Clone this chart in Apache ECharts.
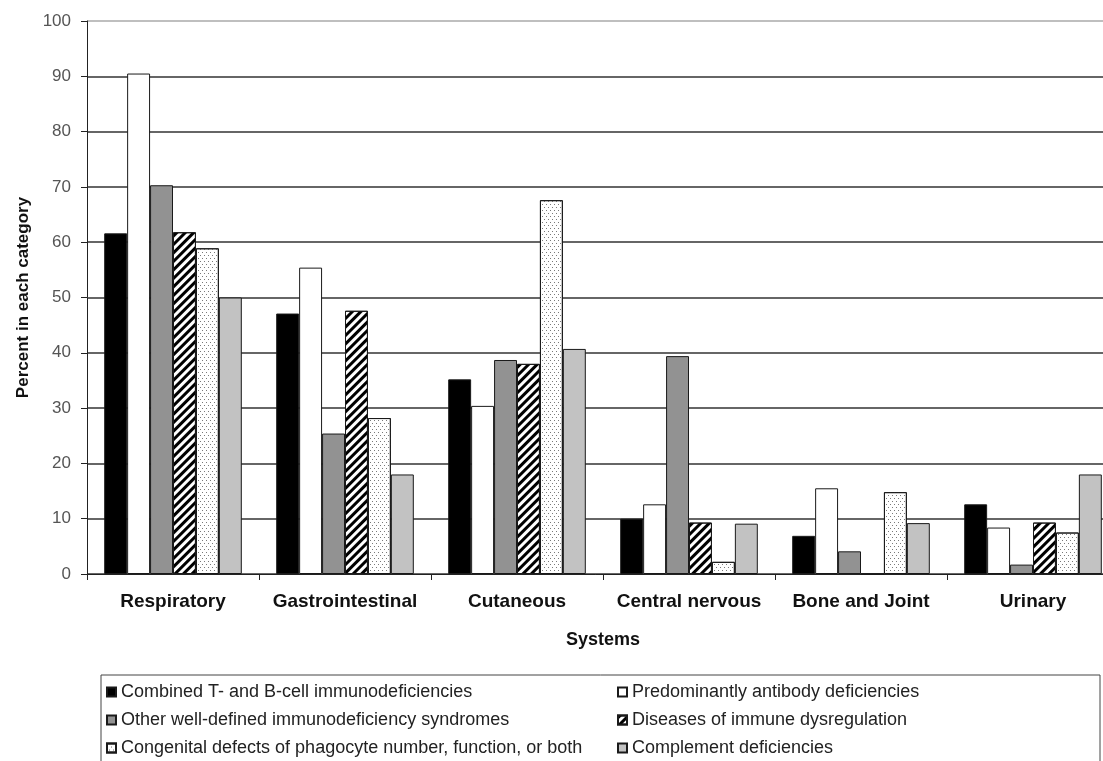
<!DOCTYPE html>
<html lang="en">
<head>
    <meta charset="UTF-8">
    <title>Systems</title>
    <script type="text/javascript" src="https://cdn.jsdelivr.net/npm/echarts@6/dist/echarts.min.js"></script>
    <style>
        html, body {
            margin: 0;
            padding: 0;
            background: #fff;
        }

        #main {
            width: 1103px;
            height: 761px;
        }
    </style>
</head>
<body>
<div id="main"></div>
<script>
    // categories and values (percent in each category)
    var systems = ['Respiratory', 'Gastrointestinal', 'Cutaneous', 'Central nervous', 'Bone and Joint', 'Urinary']
    var yTicks = [0, 10, 20, 30, 40, 50, 60, 70, 80, 90, 100]

    var combinedTB = [61.6, 47.1, 35.2, 10.0, 6.9, 12.6]
    var antibody = [90.5, 55.4, 30.4, 12.6, 15.5, 8.4]
    var otherDefined = [70.3, 25.4, 38.7, 39.4, 4.1, 1.7]
    var dysregulation = [61.8, 47.6, 38.0, 9.3, 0, 9.3]
    var phagocyte = [58.9, 28.2, 67.6, 2.2, 14.8, 7.5]
    var complement = [50.0, 18.0, 40.7, 9.1, 9.2, 18.0]

    var names = [
        'Combined T- and B-cell immunodeficiencies',
        'Predominantly antibody deficiencies',
        'Other well-defined immunodeficiency syndromes',
        'Diseases of immune dysregulation',
        'Congenital defects of phagocyte number, function, or both',
        'Complement deficiencies'
    ]

    var FONT = "'Liberation Sans', Arial, sans-serif"

    var chart = echarts.init(document.getElementById('main'))

    function bar(name, data, color, decal) {
        var style = {
            color: color,
            borderColor: '#1a1a1a',
            borderWidth: 1
        }
        if (decal) style.decal = decal
        return {
            name: name,
            type: 'bar',
            data: data,
            barGap: '0%',
            barCategoryGap: '20%',
            itemStyle: style,
            emphasis: {disabled: true}
        }
    }

    // "/" stripes
    var hatch = {
        symbol: 'rect',
        symbolSize: 1,
        color: '#000',
        backgroundColor: null,
        dashArrayX: [1, 0],
        dashArrayY: [3, 3],
        rotation: -Math.PI / 4
    }
    // fine grey dots
    var dots = {
        symbol: 'rect',
        symbolSize: 1,
        color: '#7a7a7a',
        backgroundColor: null,
        dashArrayX: [[1, 3], [0, 2, 1, 1]],
        dashArrayY: [1, 2]
    }

    var legendText = {
        fontFamily: FONT,
        fontSize: 18,
        color: '#222',
        lineHeight: 20
    }

    var option = {
        animation: false,
        grid: {
            left: 87,
            top: 21,
            width: 1032,
            height: 553,
            outerBoundsMode: 'none'
        },
        legend: [{
            data: [names[0], names[2], names[4]],
            orient: 'vertical',
            left: 106,
            top: 682,
            padding: 0,
            itemGap: 8,
            itemWidth: 9,
            itemHeight: 9,
            icon: 'rect',
            selectedMode: false,
            textStyle: legendText
        }, {
            data: [names[1], names[3], names[5]],
            orient: 'vertical',
            left: 617,
            top: 682,
            padding: 0,
            itemGap: 8,
            itemWidth: 9,
            itemHeight: 9,
            icon: 'rect',
            selectedMode: false,
            textStyle: legendText
        }],
        graphic: [{
            type: 'rect',
            shape: {x: 101, y: 675, width: 999, height: 100},
            style: {fill: 'none', stroke: '#444', lineWidth: 1},
            silent: true
        }],
        xAxis: {
            type: 'category',
            data: systems,
            name: 'Systems',
            nameLocation: 'middle',
            nameGap: 57,
            nameTextStyle: {fontFamily: FONT, fontSize: 18, fontWeight: 'bold', color: '#111'},
            axisLine: {lineStyle: {color: '#222', width: 1}},
            axisTick: {show: true, interval: 0, length: 6, lineStyle: {color: '#222'}},
            axisLabel: {
                interval: 0,
                margin: 18,
                fontFamily: FONT,
                fontSize: 19,
                fontWeight: 'bold',
                color: '#111'
            },
            splitLine: {show: false}
        },
        yAxis: {
            type: 'value',
            min: yTicks[0],
            max: yTicks[yTicks.length - 1],
            interval: 10,
            name: 'Percent in each category',
            nameLocation: 'middle',
            nameGap: 48,
            nameTextStyle: {fontFamily: FONT, fontSize: 17, fontWeight: 'bold', color: '#111'},
            axisLine: {show: true, lineStyle: {color: '#222', width: 1}},
            axisTick: {show: true, length: 6, lineStyle: {color: '#222'}},
            axisLabel: {
                margin: 16,
                fontFamily: FONT,
                fontSize: 17,
                color: '#555'
            },
            splitLine: {
                show: true,
                lineStyle: {
                    color: ['#333', '#333', '#333', '#333', '#333', '#333', '#333', '#333', '#333', '#333', '#aaa'],
                    width: 1.5
                }
            }
        },
        series: [
            bar(names[0], combinedTB, '#000000'),
            bar(names[1], antibody, '#ffffff'),
            bar(names[2], otherDefined, '#929292'),
            bar(names[3], dysregulation, '#ffffff', hatch),
            bar(names[4], phagocyte, '#ffffff', dots),
            bar(names[5], complement, '#c2c2c2')
        ]
    }

    chart.setOption(option)
</script>
</body>
</html>
